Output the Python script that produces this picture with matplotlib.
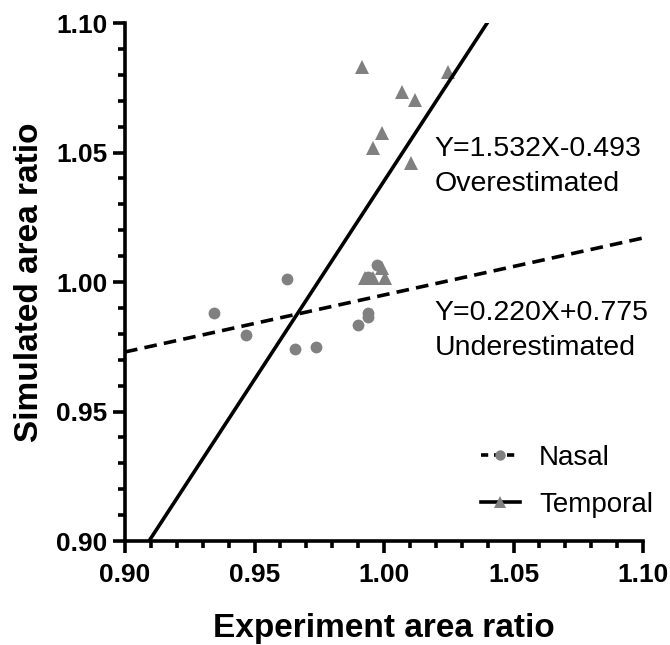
"""
Simulated vs experimental area ratio, nasal and temporal sides,
with the linear fits quoted on the chart.
"""

import matplotlib

matplotlib.use("Agg")

import matplotlib.pyplot as plt
import numpy as np
from matplotlib.ticker import MultipleLocator


# ============================================================
# Data
# ============================================================

nasal_x = [0.9345, 0.9466, 0.9627, 0.9656, 0.9737, 0.9901, 0.9937, 0.9937, 0.9939, 0.9974]
nasal_y = [0.9881, 0.9795, 1.0012, 0.9742, 0.9750, 0.9834, 0.9880, 0.9865, 1.0020, 1.0064]

temporal_x = [0.9914, 1.0248, 1.0071, 1.0120, 0.9993, 0.9959, 1.0104,
              0.9927, 0.9959, 0.9991, 1.0004]
temporal_y = [1.0831, 1.0812, 1.0732, 1.0703, 1.0576, 1.0516, 1.0458,
              1.0014, 1.0014, 1.0053, 1.0014]

# fitted lines as printed on the figure
nasal_slope, nasal_intercept = 0.220, 0.775
temporal_slope, temporal_intercept = 1.532, -0.493

nasal_label = "Y=0.220X+0.775\nUnderestimated"
temporal_label = "Y=1.532X-0.493\nOverestimated"

x_ticks = [0.90, 0.95, 1.00, 1.05, 1.10]
y_ticks = [0.90, 0.95, 1.00, 1.05, 1.10]


# ============================================================
# Style
# ============================================================

plt.rcParams["font.family"] = ["Liberation Sans", "DejaVu Sans"]

GREY = "#808080"
LW = 2.6

fig = plt.figure(figsize=(6.7, 6.45), dpi=100)
ax = fig.add_axes([0.1866, 0.1612, 0.7731, 0.8031])


# ============================================================
# Fit lines
# ============================================================

line_x = np.array([0.90, 1.10])

ax.plot(
    line_x,
    nasal_slope * line_x + nasal_intercept,
    color="black",
    linewidth=LW,
    linestyle=(0, (3.5, 2.0)),
    zorder=3,
)

ax.plot(
    line_x,
    temporal_slope * line_x + temporal_intercept,
    color="black",
    linewidth=LW,
    zorder=3,
)


# ============================================================
# Points
# ============================================================

ax.plot(nasal_x, nasal_y, "o", color=GREY, markersize=8.5,
        markeredgewidth=0, zorder=2)

ax.plot(temporal_x, temporal_y, "^", color=GREY, markersize=9.5,
        markeredgewidth=0, zorder=2)


# ============================================================
# Legend (proxy handles: line + marker)
# ============================================================

h_nasal, = ax.plot([], [], color="black", linewidth=LW,
                   linestyle=(0, (2.0, 1.6)), marker="o",
                   markerfacecolor=GREY, markeredgewidth=0, markersize=7.5)
h_temporal, = ax.plot([], [], color="black", linewidth=LW,
                      marker="^", markerfacecolor=GREY,
                      markeredgewidth=0, markersize=8)

ax.legend(
    [h_nasal, h_temporal],
    ["Nasal", "Temporal"],
    loc="upper left",
    bbox_to_anchor=(0.687, 0.185),
    frameon=False,
    fontsize=20,
    handlelength=1.4,
    handletextpad=0.7,
    labelspacing=0.75,
    borderpad=0,
    borderaxespad=0,
)


# ============================================================
# Annotations
# ============================================================

ax.text(1.0195, 1.0445, temporal_label, fontsize=20.5, va="center",
        ha="left", linespacing=1.45)

ax.text(1.0195, 0.9812, nasal_label, fontsize=20.5, va="center",
        ha="left", linespacing=1.45)


# ============================================================
# Axes
# ============================================================

ax.set_xlim(0.90, 1.10)
ax.set_ylim(0.90, 1.10)

ax.set_xticks(x_ticks)
ax.set_yticks(y_ticks)
ax.set_xticklabels([f"{v:.2f}" for v in x_ticks])
ax.set_yticklabels([f"{v:.2f}" for v in y_ticks])

ax.xaxis.set_minor_locator(MultipleLocator(0.01))
ax.yaxis.set_minor_locator(MultipleLocator(0.01))

for side in ["top", "right"]:
    ax.spines[side].set_visible(False)

for side in ["left", "bottom"]:
    ax.spines[side].set_linewidth(LW)

ax.tick_params(which="major", direction="out", length=8.5, width=LW,
               labelsize=19)
ax.tick_params(which="minor", direction="out", length=5, width=LW)
ax.tick_params(axis="x", which="major", pad=7)
ax.tick_params(axis="y", which="major", pad=4)

for label in ax.get_xticklabels() + ax.get_yticklabels():
    label.set_fontweight("bold")

ax.set_xlabel("Experiment area ratio", fontsize=24, fontweight="bold",
              labelpad=19)
ax.set_ylabel("Simulated area ratio", fontsize=24, fontweight="bold",
              labelpad=8)

fig.savefig("out.png", dpi=100)

plt.close(fig)
